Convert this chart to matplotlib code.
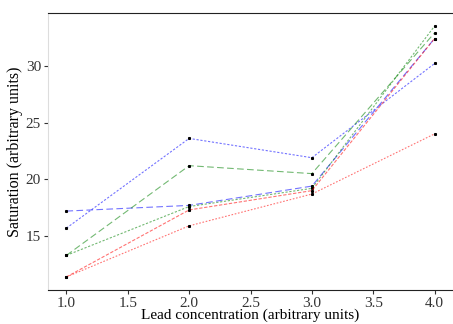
import matplotlib
matplotlib.use('Agg')
import matplotlib.pyplot as plt

# Data
lead = [1.0, 2.0, 3.0, 4.0]
blueDash  = [17.2, 17.7, 19.4, 32.4]
blueDot   = [15.7, 23.6, 21.9, 30.2]
greenDash = [13.3, 21.2, 20.5, 32.9]
greenDot  = [13.3, 17.6, 19.2, 33.5]
redDash   = [11.4, 17.3, 19.0, 32.4]
redDot    = [11.4, 15.9, 18.7, 24.0]

plt.rcParams['font.family'] = ['Liberation Serif', 'DejaVu Serif']

fig = plt.figure(figsize=(4.53, 3.24), dpi=100)
ax = fig.add_axes([0.106, 0.105, 0.894, 0.855])

series = [
    (blueDash,  'blue',  (0, (6, 3))),
    (blueDot,   'blue',  (0, (2, 1.5))),
    (greenDash, 'green', (0, (6, 3))),
    (greenDot,  'green', (0, (2, 1.5))),
    (redDash,   'red',   (0, (3, 1.5))),
    (redDot,    'red',   (0, (1.5, 1.5))),
]
for vals, col, ls in series:
    ax.plot(lead, vals, color=col, alpha=0.55, lw=0.8, linestyle=ls)
    ax.plot(lead, vals, 's', color='black', markersize=1.2, lw=0)

ax.set_xlim(0.85, 4.15)
ax.set_ylim(10.25, 34.65)
ax.set_xticks([1.0, 1.5, 2.0, 2.5, 3.0, 3.5, 4.0])
ax.set_yticks([15, 20, 25, 30])
ax.tick_params(labelsize=11, length=3, width=0.8, pad=2, colors='#333333', labelcolor='#333333')

ax.spines['left'].set_color('#dddddd')
ax.spines['right'].set_visible(False)
ax.spines['top'].set_color('#222222')
ax.spines['bottom'].set_color('#222222')

ax.set_xlabel('Lead concentration (arbitrary units)', fontsize=11, labelpad=-1)
ax.set_ylabel('Saturation (arbitrary units)', fontsize=11.5, labelpad=2)

fig.savefig('out.png', dpi=100)
